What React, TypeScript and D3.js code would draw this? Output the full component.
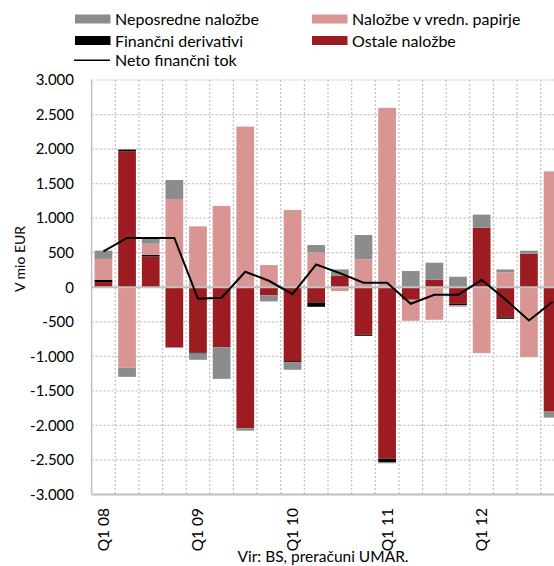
import React from "react";
import * as d3 from "d3";

const categories = [
  "Q1 08", "Q2 08", "Q3 08", "Q4 08",
  "Q1 09", "Q2 09", "Q3 09", "Q4 09",
  "Q1 10", "Q2 10", "Q3 10", "Q4 10",
  "Q1 11", "Q2 11", "Q3 11", "Q4 11",
  "Q1 12", "Q2 12", "Q3 12", "Q4 12",
];

const ostale = [75, 1968, 446, -872, -945, -867, -2041, -118, -1070, -220, 171, -688, -2481, -181, 109, -240, 862, -437, 486, -1800];
const derivativi = [30, 25, 25, 0, -15, 0, 0, 0, -15, -63, 0, -15, -48, 0, 0, -22, 0, -20, 0, 0];
const vrednostni = [305, -1162, 160, 1278, 881, 1177, 2326, 321, 1119, 504, -55, 403, 2597, -305, -471, -20, -954, 215, -1012, 1678];
const neposredne = [120, -135, 73, 275, -90, -459, -35, -87, -110, 107, 87, 353, -19, 235, 246, 152, 189, 43, 43, -87];
const neto = [519, 713, 713, 713, -167, -152, 225, 94, -99, 330, 205, 65, 65, -239, -109, -109, 104, -175, -481, -210];

const yTicks = [-3000, -2500, -2000, -1500, -1000, -500, 0, 500, 1000, 1500, 2000, 2500, 3000];

const seriesKeys = ["ostale", "derivativi", "vrednostni", "neposredne"];
const seriesColors: Record<string, string> = {
  neposredne: "#8c8c8c",
  vrednostni: "#d99594",
  derivativi: "#000000",
  ostale: "#9c1c22",
};

const legendItems = [
  { key: "neposredne", label: "Neposredne naložbe", col: 0, row: 0 },
  { key: "vrednostni", label: "Naložbe v vredn. papirje", col: 1, row: 0 },
  { key: "derivativi", label: "Finančni derivativi", col: 0, row: 1 },
  { key: "ostale", label: "Ostale naložbe", col: 1, row: 1 },
];

const FONT = "Lato, 'Noto Sans', sans-serif";

function fmt(v: number) {
  const s = Math.abs(v).toString();
  const withDots = s.length > 3 ? s.slice(0, s.length - 3) + "." + s.slice(s.length - 3) : s;
  return (v < 0 ? "-" : "") + withDots;
}

export default function App() {
  const W = 554, H = 566;
  const left = 91.6;
  const step = 23.64;
  const top = 80, bottom = 494.5;

  const x = d3
    .scaleBand<number>()
    .domain(categories.map((_, i) => i))
    .range([left, left + step * categories.length])
    .paddingInner(0.25)
    .paddingOuter(0.125);
  const y = d3.scaleLinear().domain([-3000, 3000]).range([bottom, top]);

  const rows = categories.map((_, i) => ({
    ostale: ostale[i],
    derivativi: derivativi[i],
    vrednostni: vrednostni[i],
    neposredne: neposredne[i],
  }));
  const stacked = d3
    .stack<any>()
    .keys(seriesKeys)
    .offset(d3.stackOffsetDiverging)(rows);

  const lineGen = d3
    .line<number>()
    .x((_, i) => (x(i) as number) + x.bandwidth() / 2)
    .y((d) => y(d));

  const grid = "#c0c0c0";
  const legendColX = [75, 312];
  const legendRowY = [14.5, 36];

  return (
    <svg width={W} height={H} style={{ position: "absolute", left: 0, top: 0 }} fontFamily={FONT}>
      <rect width={W} height={H} fill="#fff" />
      {yTicks
        .filter((t) => t !== 0 && t !== -3000)
        .map((t) => (
          <line key={"h" + t} x1={left} x2={W} y1={y(t)} y2={y(t)} stroke={grid} strokeWidth={1.2} strokeDasharray="2,2" />
        ))}
      {categories.slice(1).map((_, k) => {
        const xx = left + step * (k + 1);
        return <line key={"v" + k} x1={xx} x2={xx} y1={top} y2={bottom} stroke={grid} strokeWidth={1.2} strokeDasharray="2,2" />;
      })}
      {stacked.map((s) => (
        <g key={s.key} fill={seriesColors[s.key]}>
          {s.map((d, i) => {
            const y0 = y(d[0]);
            const y1 = y(d[1]);
            const h = Math.abs(y0 - y1);
            if (h < 0.01) return null;
            return <rect key={i} x={x(i)} width={x.bandwidth()} y={Math.min(y0, y1)} height={h} />;
          })}
        </g>
      ))}
      <line x1={left} x2={W} y1={y(0)} y2={y(0)} stroke={grid} strokeWidth={2.2} />
      <line x1={left} x2={left} y1={top} y2={bottom} stroke={grid} strokeWidth={1.5} />
      <line x1={left} x2={W} y1={bottom} y2={bottom} stroke={grid} strokeWidth={1.8} />
      <path d={lineGen(neto) || ""} fill="none" stroke="#000" strokeWidth={2} strokeLinejoin="miter" />
      {yTicks.map((t) => (
        <text key={"yt" + t} x={74} y={y(t) + 5.3} textAnchor="end" fontSize={15} fill="#000">
          {fmt(t)}
        </text>
      ))}
      <text transform={`translate(24.5,259) rotate(-90)`} textAnchor="middle" fontSize={14} fill="#000">
        V mio EUR
      </text>
      {categories.map((c, i) =>
        c.startsWith("Q1") ? (
          <text
            key={"xt" + i}
            transform={`translate(${(x(i) as number) + x.bandwidth() / 2 + 5.5},508) rotate(-90)`}
            textAnchor="end"
            fontSize={15.5}
            fill="#000"
          >
            {c}
          </text>
        ) : null
      )}
      {legendItems.map((it) => (
        <g key={it.key}>
          <rect x={legendColX[it.col]} y={legendRowY[it.row]} width={35.5} height={9} fill={seriesColors[it.key]} />
          <text x={legendColX[it.col] + 40} y={legendRowY[it.row] + 10.8} fontSize={16} fill="#000">
            {it.label}
          </text>
        </g>
      ))}
      <line x1={74} x2={110} y1={60.3} y2={60.3} stroke="#000" strokeWidth={1.5} />
      <text x={115} y={66} fontSize={16} fill="#000">
        Neto finančni tok
      </text>
      <text x={323} y={562} textAnchor="middle" fontSize={15.5} fill="#000">
        Vir: BS, preračuni UMAR.
      </text>
    </svg>
  );
}
